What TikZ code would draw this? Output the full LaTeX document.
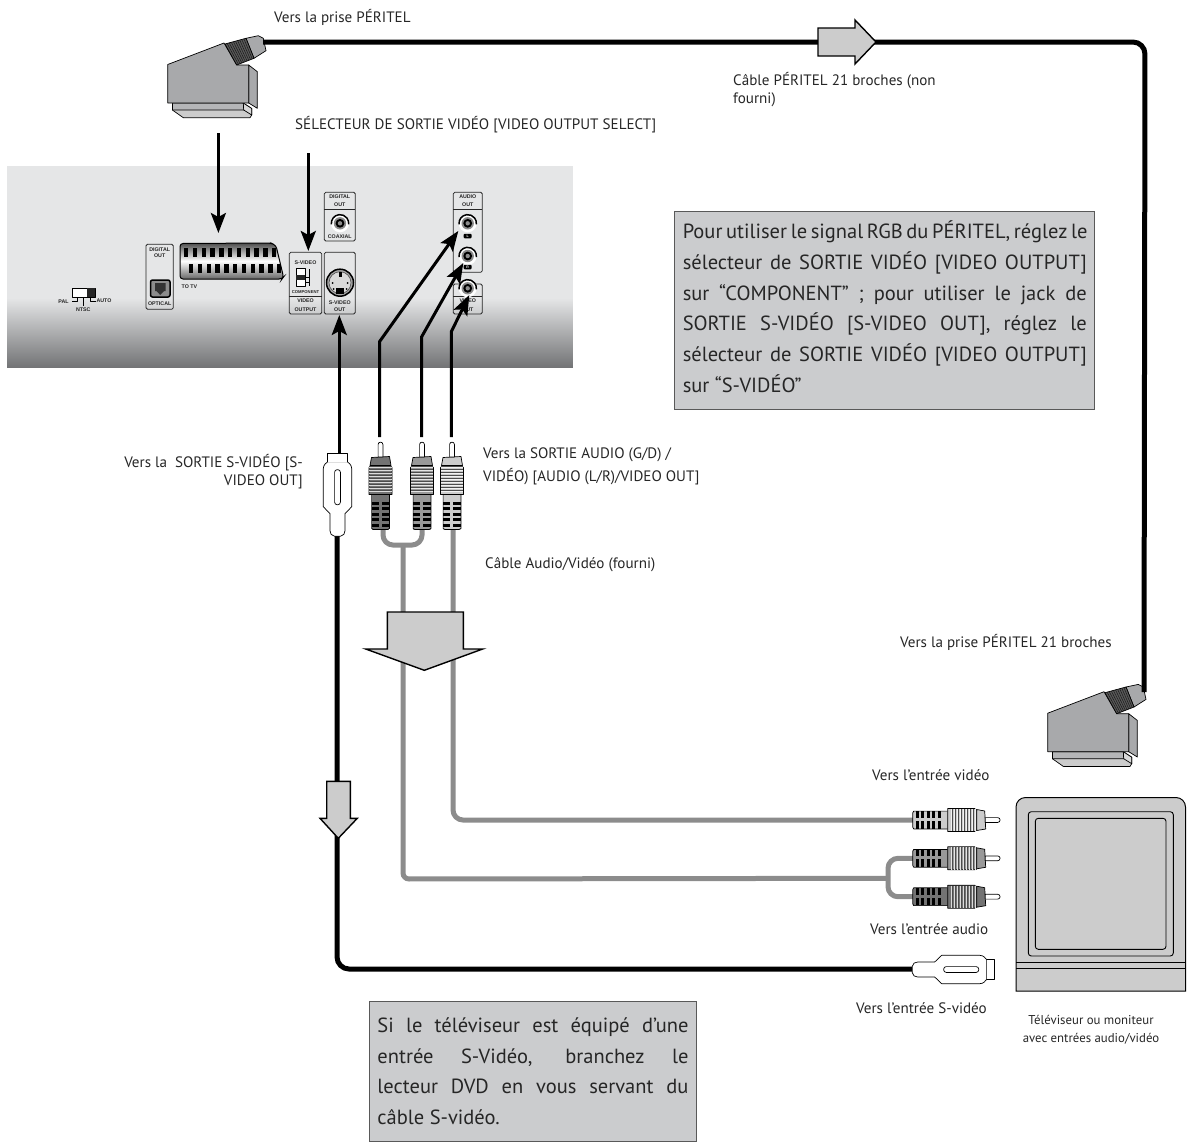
\documentclass[tikz,border=0pt]{standalone}
\usepackage{fontspec}
\setmainfont{PT Sans}
\setsansfont{Liberation Sans}
\usepackage{tikz}
\usetikzlibrary{arrows.meta,calc}
\definecolor{cableGray}{HTML}{8C8C8C}
\definecolor{boxGray}{HTML}{CBCCCE}
\definecolor{plugGray}{HTML}{A8A9AB}
\definecolor{panelGray}{HTML}{E5E6E7}
\definecolor{panelDark}{HTML}{737476}
\tikzstyle{tsLabel} = [
    text=black!85,
    font=\fontsize{15.1}{18.5}\selectfont,
    inner sep=0pt,
    align=left
]
\tikzstyle{tsNote} = [
    rectangle,
    draw=black!65,
    line width=0.9pt,
    fill=boxGray,
    font=\fontsize{20.5}{30.7}\selectfont,
    text=black!85,
    align=left,
    inner xsep=8pt,
    inner ysep=0pt
]
\tikzstyle{tsTiny} = [
    font=\bfseries\sffamily\fontsize{5.3}{6}\selectfont,
    text=black!85,
    inner sep=0pt
]
\tikzstyle{tsTag} = [
    tsTiny,
    fill=black,
    text=white,
    minimum width=8pt,
    minimum height=4.5pt,
    rounded corners=1pt,
    font=\bfseries\sffamily\fontsize{3.5}{4}\selectfont
]
\tikzstyle{tsBlack} = [
    draw=black,
    line width=5pt,
    rounded corners=12pt
]
\tikzstyle{tsGrayCable} = [
    draw=cableGray,
    line width=5pt,
    rounded corners=10pt
]
\tikzstyle{tsPoint} = [
    draw=black,
    line width=3pt,
    -{Stealth[length=20pt,width=15pt,inset=4pt]}
]
\tikzstyle{tsPanelBox} = [
    draw=black!85,
    line width=0.8pt,
    rounded corners=1.5pt
]
\tikzstyle{tsBlock} = [
    draw=black,
    line width=1.4pt,
    fill=black!20,
    miter limit=10
]
\tikzstyle{tsThin} = [
    draw=black,
    line width=0.7pt,
    line join=round
]
\newcommand{\noteLine}[2]{\hbox to #1pt{#2}}
\newcommand{\noteTop}[1]{\rule{0pt}{#1pt}}
\newcommand{\noteEnd}{\rule[-17pt]{0pt}{17pt}}
\tikzset{
    rcaplug/.pic={
        \begin{scope}[yscale=-1]
        % cable end at the origin, pin upwards
        \fill[#1] (-8.9,0) rectangle (8.9,35);
        \draw[tsThin] (-8.9,35) -- (-8.9,1) -- (-7,0) -- (7,0) -- (8.9,1) -- (8.9,35);
        \foreach \y in {3,8.5,14,19.5,25} {
            \fill[black] (-8.6,\y) rectangle (-2,\y+3);
            \fill[black] (1,\y) rectangle (8.6,\y+3);
        }
        \draw[tsThin, fill=#1] (-11.5,35) -- (-11.5,62) -- (-9.5,64) -- (9.5,64) -- (11.5,62) -- (11.5,35) -- cycle;
        \foreach \y in {38,41,...,62} {
            \draw[white!75!#1, line width=0.4pt] (-11.2,\y) -- (11.2,\y);
            \draw[black!70, line width=0.3pt] (-11.2,\y+1.5) -- (11.2,\y+1.5);
        }
        \draw[tsThin, fill=#1] (-10.5,64) -- (-9,72) -- (9,73) -- (10.5,64) -- cycle;
        \draw[tsThin, fill=white] (-2.4,72.5) -- (-2.4,85) arc (180:0:2.4) -- (2.4,72.5) -- cycle;
        \end{scope}
    },
    svideoplug/.pic={
        \begin{scope}[yscale=-1]
        % cable end at the origin, cap upwards
        \draw[tsThin, fill=white] (-3,0.5) .. controls (-6,1) and (-7.5,3) .. (-7.5,6) -- (-7.5,23) -- (-14.2,30)
            -- (-14.2,68) .. controls (-14.2,72) and (-11,74) .. (-9.8,75) -- (9.8,75)
            .. controls (11,74) and (14.2,72) .. (14.2,68) -- (14.2,30) -- (7.5,23) -- (7.5,6)
            .. controls (7.5,3) and (6,1) .. (3,0.5) -- cycle;
        \draw[tsThin, fill=white] (-9.8,75) -- (-9.8,83) -- (9.8,83) -- (9.8,75);
        \draw[tsThin, fill=white, rounded corners=2.5pt] (-2.9,32) rectangle (2.9,67);
        \end{scope}
    },
    scartplug/.pic={
        % origin at the top left corner of the body
        \draw[tsThin, fill=black!20] (4.7,38.5) -- (4.7,45.5) -- (15.6,53.2) -- (82.3,53.2) -- (84,50.5) -- (84,44) -- (75.6,38.5) -- cycle;
        \draw[tsThin, fill=plugGray!85] (4.7,38.5) -- (4.7,45.5) -- (76,45.5) -- (75.6,38.5) -- cycle;
        \draw[tsThin, fill=black!15] (76,45.5) -- (84,50.5) -- (84,44) -- (75.6,38.5) -- cycle;
        \draw[tsThin, fill=plugGray] (81,0.5) -- (89.6,7.2) -- (89.6,43.8) -- (81,38.5) -- cycle;
        \draw[tsThin, fill=plugGray] (0,0) -- (56.3,-21.5) -- (69,0.5) -- (81,0.5) -- (81,38.5) -- (0,38.5) -- cycle;
        \draw[tsThin, fill=plugGray] (78.3,-26.2) -- (90.6,-28.8) -- (95.6,-26.2) -- (98.3,-13.8) -- (86.3,-6.2) -- cycle;
        \draw[tsThin, fill=black!65] (57.3,-20.5) -- (78.3,-26.2) -- (86.3,-6.2) -- (69,0.5) -- cycle;
        \foreach \t in {0.1,0.2,...,0.95} {
            \draw[black!90, line width=0.5pt] ($(57.3,-20.5)!\t!(78.3,-26.2)$) -- ($(69,0.5)!\t!(86.3,-6.2)$);
        }
    },
    jackport/.pic={
        \fill[white] (0,0) circle (9);
        \draw[black, line width=1.5pt] (-8.63,1.06) arc (173:367:8.7);
        \fill[black!45] (0,0) circle (6.2);
        \fill[black] (0,0) circle (4.4);
        \fill[black!45] (0,0) circle (2.2);
    }
}

\begin{document}
\begin{tikzpicture}[x=1pt, y=-1pt]
    \useasboundingbox (0,0) rectangle (1192,1143);

    % rear panel
    \fill[panelGray] (7,166) rectangle (573,298.5);
    \foreach \k in {0,...,69} {
        \pgfmathsetmacro{\mixval}{100-100*\k/69}
        \fill[panelGray!\mixval!panelDark] (7,298+\k) rectangle (573,299.2+\k);
    }

    % slide switch
    \draw[tsThin, fill=white] (72.7,288.3) rectangle (95,297.3);
    \fill[black!85] (87.3,288.3) rectangle (95,297.3);
    \draw[tsThin] (77.3,297.3) -- (77.3,301.7) -- (72.3,301.7);
    \draw[tsThin] (83.3,297.3) -- (83.3,306);
    \draw[tsThin] (90,297.3) -- (90,301.7) -- (95.7,301.7);
    \node[tsTiny] (pal) at (63.5,302) {PAL};
    \node[tsTiny] (ntsc) at (83.3,310) {NTSC};
    \node[tsTiny] (auto) at (104,300.5) {AUTO};

    % optical output
    \draw[tsPanelBox] (146,244.3) rectangle (173.3,309.3);
    \node[tsTiny] (digitalA) at (159.7,249.5) {DIGITAL};
    \node[tsTiny] (outA) at (159.7,255.7) {OUT};
    \draw[black, line width=1.5pt, fill=black!45, rounded corners=2pt] (150.5,280) rectangle (170,297);
    \fill[black!80] (155,283) rectangle (165.5,291) (156.5,291) -- (164,291) -- (160.2,295) -- cycle;
    \node[tsTiny] (optical) at (159.7,303.2) {OPTICAL};

    % scart socket
    \shade[top color=black!70, bottom color=black!60, middle color=white, draw=black, line width=1pt, rounded corners=3pt]
        (180,243.5) -- (271,243) -- (276,245.5) -- (283.5,277) -- (282,279) -- (180,279) -- cycle;
    \foreach \i in {0,...,10} {
        \fill[black] (184+8.8*\i,248) rectangle +(4.3,9);
        \fill[black] (189+8.8*\i,264) rectangle +(4.3,9);
    }
    \node[tsTiny] (totv) at (189.5,286.7) {TO TV};

    % video output switch
    \draw[tsPanelBox] (289.3,252.3) rectangle (321.7,314);
    \draw[black!85, line width=0.8pt] (289.3,296.7) -- (321.7,296.7);
    \node[tsTiny] (svideoA) at (305.5,262.7) {S-VIDEO};
    \draw[tsThin, fill=white] (296,268.5) rectangle (305,286);
    \fill[black!85] (296,274.5) rectangle (305,279.5);
    \draw[tsThin] (305,277) -- (309.5,277) -- (309.5,268.5);
    \draw[tsThin] (305,282) -- (309.5,282) -- (309.5,277) -- (309.5,286);
    \node[tsTiny, font=\bfseries\sffamily\fontsize{4.2}{5}\selectfont] (component) at (305.5,291.7) {COMPONENT};
    \node[tsTiny] (videoA) at (305.5,301) {VIDEO};
    \node[tsTiny] (outputA) at (305.5,309.5) {OUTPUT};

    % s-video socket
    \draw[tsPanelBox] (324.3,252.3) rectangle (355.3,314);
    \draw[black, line width=1.5pt, fill=black!35] (340,282.7) circle (13.5);
    \draw[black!70, line width=0.6pt, fill=black!15] (340,282.7) circle (11);
    \fill[black] (338.5,272) rectangle (341.5,277);
    \fill[black] (336,288) rectangle (344,293.5);
    \foreach \cx/\cy in {332.5/283, 347.5/283, 333.5/289, 346.5/289} {
        \fill[black] (\cx,\cy) circle (1);
    }
    \node[tsTiny] (svideoB) at (339.8,302.7) {S-VIDEO};
    \node[tsTiny] (outB) at (339.8,310) {OUT};

    % coaxial output
    \draw[tsPanelBox] (324.3,192.3) rectangle (355.3,241);
    \draw[black!85, line width=0.8pt] (324.3,209) -- (355.3,209);
    \node[tsTiny] (digitalB) at (339.8,196.8) {DIGITAL};
    \node[tsTiny] (outC) at (339.8,204.3) {OUT};
    \pic at (340,223.3) {jackport};
    \node[tsTiny] (coaxial) at (339.8,236.7) {COAXIAL};

    % audio and video outputs
    \draw[tsPanelBox] (453.3,192.3) rectangle (482.3,272.3);
    \draw[black!85, line width=0.8pt] (453.3,209) -- (482.3,209);
    \node[tsTiny] (audioA) at (467.8,196.8) {AUDIO};
    \node[tsTiny] (outD) at (467.8,204.3) {OUT};
    \pic at (467.7,223.3) {jackport};
    \node[tsTag] (tagL) at (467.7,236) {L};
    \pic at (467.7,256) {jackport};
    \node[tsTag] (tagR) at (467.7,267) {R};
    \draw[tsPanelBox] (453.3,284) rectangle (482.3,314);
    \draw[black!85, line width=0.8pt] (453.3,296.7) -- (482.3,296.7);
    \node[tsTiny] (videoB) at (467.8,301) {VIDEO};
    \node[tsTiny] (outE) at (467.8,309.5) {OUT};
    \pic at (467.7,288.3) {jackport};

    % plugs on the player side
    \coordinate (scartTop) at (263,42);
    \coordinate (scartTv) at (1144,692);
    \coordinate (cornerTop) at (1145,42);
    \pic at (167.7,64.5) {scartplug};
    \pic at (1047.7,713.2) {scartplug};

    % arrows
    \coordinate (scartFrom) at (218.4,133);
    \coordinate (scartTo) at (218.4,233);
    \coordinate (selectFrom) at (308.3,153);
    \coordinate (selectTo) at (308.3,251);
    \draw[tsPoint] (scartFrom) -- (scartTo);
    \draw[tsPoint] (selectFrom) -- (selectTo);
    \coordinate (svideoUp) at (339.3,315);
    \coordinate (svideoTop) at (339.3,453);
    \draw[tsPoint] (svideoTop) -- (svideoUp);
    \coordinate (rcaA) at (379.5,437);
    \coordinate (rcaB) at (421.7,437);
    \coordinate (rcaC) at (451.3,437);
    \coordinate (jackA) at (458.3,231);
    \coordinate (jackB) at (463.3,263);
    \coordinate (jackC) at (469.3,295);
    \draw[tsPoint] (rcaA) -- (379.5,341.7) -- (jackA);
    \draw[tsPoint] (rcaB) -- (421.7,336.7) -- (jackB);
    \draw[tsPoint] (rcaC) -- (451.3,331.7) -- (jackC);

    % cables
    \draw[tsBlack] (scartTop) -- (cornerTop) -- (scartTv);
    \coordinate (plugSvA) at (337,536);
    \coordinate (plugSvB) at (912,969);
    \draw[tsBlack] (plugSvA) -- (337,969) -- (plugSvB);
    \coordinate (plugAudA) at (383,529);
    \coordinate (plugAudB) at (422,529);
    \coordinate (plugVidA) at (453,529);
    \coordinate (plugVidB) at (913,820);
    \coordinate (plugAudC) at (913,858.3);
    \coordinate (plugAudD) at (913,896.7);
    \coordinate (forkTop) at (403,545);
    \coordinate (forkRight) at (888,878.3);
    \draw[tsGrayCable] (plugAudA) -- (383,545) -- (422,545) -- (plugAudB);
    \draw[tsGrayCable, rounded corners=6pt] (forkTop) -- (403,879) -- (forkRight);
    \draw[tsGrayCable] (plugAudC) -- (888,858.3) -- (888,896.7) -- (plugAudD);
    \draw[tsGrayCable] (plugVidA) -- (453,820) -- (plugVidB);

    % connectors
    \pic at (380.5,529.5) {rcaplug={black!55}};
    \pic at (422,529.5) {rcaplug={black!40}};
    \pic at (452,529.5) {rcaplug={black!20}};
    \pic[rotate=-90] at (912.7,820) {rcaplug={black!20}};
    \pic[rotate=-90] at (912.7,858.3) {rcaplug={black!40}};
    \pic[rotate=-90] at (912.7,896.7) {rcaplug={black!55}};
    \pic at (337.5,536.7) {svideoplug};
    \pic[rotate=-90] at (911.7,969.5) {svideoplug};

    % block arrows
    \draw[tsBlock] (818,28) -- (855,28) -- (855,20) -- (876,42) -- (855,64) -- (855,56) -- (818,56) -- cycle;
    \draw[tsBlock] (387.3,612) -- (463.3,612) -- (463.3,649) -- (482.7,649) -- (424.3,670.3) -- (365.7,649) -- (387.3,649) -- cycle;
    \draw[tsBlock] (326.7,781.3) -- (350.3,781.3) -- (350.3,818.3) -- (357.3,818.3) -- (338.3,838.3) -- (320,818.3) -- (326.7,818.3) -- cycle;

    % television
    \draw[black, line width=1pt, fill=black!20] (1016,991) -- (1016,807) arc (180:270:9.5) -- (1176,797.5) arc (270:360:9.5) -- (1185.5,991) -- cycle;
    \draw[black, line width=0.9pt, rounded corners=3pt] (1028.3,811.7) rectangle (1173.3,956);
    \draw[black, line width=0.9pt, rounded corners=3pt] (1035.3,818.3) rectangle (1166,949.3);
    \draw[black, line width=0.9pt] (1016,962.7) -- (1185.5,962.7);
    \draw[black, line width=0.9pt] (1016,968.3) -- (1185.5,968.3);

    % labels
    \node[tsLabel, anchor=base west] (lblScart) at (274,22) {Vers la prise PÉRITEL};
    \node[tsLabel, anchor=base west] (lblCable) at (733,103.5) {Câble PÉRITEL 21 broches (non\\fourni)};
    \node[tsLabel, anchor=base west] (lblSelect) at (295,129) {SÉLECTEUR DE SORTIE VIDÉO [VIDEO OUTPUT SELECT]};
    \node[tsLabel, anchor=base east, align=right] (lblSv) at (303,485.5) {Vers la\ \ SORTIE S-VIDÉO [S-\\VIDEO OUT]};
    \node[tsLabel, anchor=base west] (lblAudio) at (483,481) {Vers la SORTIE AUDIO (G/D) /\\[4pt]VIDÉO) [AUDIO (L/R)/VIDEO OUT]};
    \node[tsLabel, anchor=base west] (lblAv) at (485,568) {Câble Audio/Vidéo (fourni)};
    \node[tsLabel, anchor=base west] (lblTvScart) at (900,647) {Vers la prise PÉRITEL 21 broches};
    \node[tsLabel, anchor=base west] (lblTvVideo) at (872,780) {Vers l’entrée vidéo};
    \node[tsLabel, anchor=base west] (lblTvAudio) at (870,934) {Vers l’entrée audio};
    \node[tsLabel, anchor=base west] (lblTvSv) at (856,1013) {Vers l’entrée S-vidéo};
    \node[tsLabel, anchor=base, align=center, font=\fontsize{12.8}{18}\selectfont] (lblTv) at (1091,1042) {Téléviseur ou moniteur\\avec entrées audio/vidéo};

    % notes
    \node[tsNote, anchor=north west] (noteRgb) at (674.3,210.7) {%
        \noteLine{404}{\noteTop{27.6}Pour utiliser le signal RGB du PÉRITEL, réglez le}\\
        \noteLine{404}{sélecteur de SORTIE VIDÉO [VIDEO OUTPUT]}\\
        \noteLine{404}{sur “COMPONENT” ; pour utiliser le jack de}\\
        \noteLine{404}{SORTIE S-VIDÉO [S-VIDEO OUT], réglez le}\\
        \noteLine{404}{sélecteur de SORTIE VIDÉO [VIDEO OUTPUT]}\\
        sur “S-VIDÉO”\noteEnd};
    \node[tsNote, anchor=north west] (noteSv) at (369,1001) {%
        \noteLine{311}{\noteTop{31}Si le téléviseur est équipé d’une}\\
        \noteLine{311}{entrée S-Vidéo, branchez le}\\
        \noteLine{311}{lecteur DVD en vous servant du}\\
        câble S-vidéo.\noteEnd};
\end{tikzpicture}
\end{document}
